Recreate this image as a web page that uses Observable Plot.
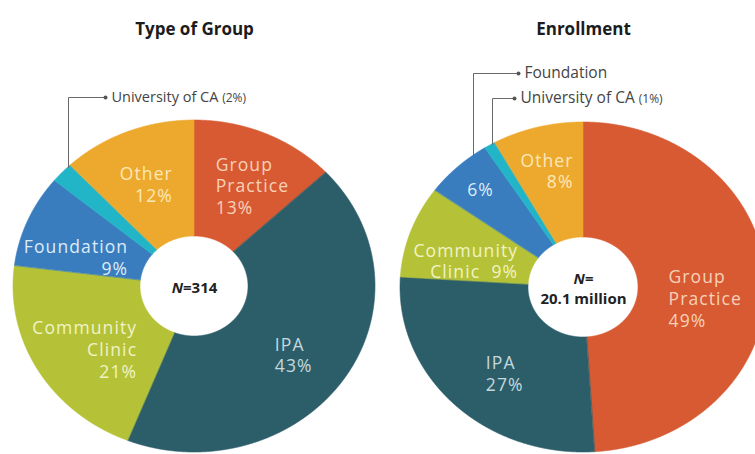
<!DOCTYPE html>
<html><head><meta charset="utf-8">
<script src="https://cdn.jsdelivr.net/npm/d3@7"></script>
<script src="https://cdn.jsdelivr.net/npm/@observablehq/plot@0.6"></script>
<style>html,body{margin:0;padding:0;background:#fff;overflow:hidden} svg{display:block}</style>
</head><body><div id="chart"></div>
<script>
// ---- data ----
const categories = ["Group Practice", "IPA", "Community Clinic", "Foundation", "University of CA", "Other"];
const groupShares = [13, 43, 21, 9, 2, 12];
const enrollmentShares = [49, 27, 9, 6, 1, 8];
const chartTitles = ["Type of Group", "Enrollment"];
const centerNotes = ["N=314", "N=\n20.1 million"];

// ---- styles ----
const sliceColors = ["#D75A33", "#2C5E6A", "#B5C237", "#397DBF", "#22B5C8", "#EDA92E"];
const labelColors = ["#F8D1B8", "#C4D8DD", "#F1F3C6", "#DDEBF8", "#DDF3F6", "#FCE8B6"];

// ---- layout ----
const W = 755, H = 454;
const pies = [
  {shares: groupShares, title: chartTitles[0], note: centerNotes[0],
   cx: 194, cy: 286, rx: 181, ry: 166, hrx: 54, hry: 50, noteSize: 14.5,
   labels: {
     "Group Practice": {anchor: "start", dx: -27, dy: 1, name: "Group\nPractice", sep: "\n"},
     "IPA": {anchor: "start", dx: -20, dy: 5.5, name: "IPA", sep: "\n"},
     "Community Clinic": {anchor: "end", dx: 47, dy: 6, name: "Community\nClinic", sep: "\n"},
     "Foundation": {anchor: "end", dx: 45, dy: 15, name: "Foundation", sep: "\n"},
     "Other": {anchor: "end", dx: 23, dy: 1, name: "Other", sep: "\n"}
   },
   notes: [{cat: "University of CA", dotX: 105, dotY: 97, elbowX: 68, pct: true}]},
  {shares: enrollmentShares, title: chartTitles[1], note: centerNotes[1],
   cx: 583, cy: 287, rx: 183, ry: 165, hrx: 55, hry: 50, noteSize: 15.5,
   labels: {
     "Group Practice": {anchor: "start", dx: -37.5, dy: 14, name: "Group\nPractice", sep: "\n"},
     "IPA": {anchor: "start", dx: -11, dy: 7.5, name: "IPA", sep: "\n"},
     "Community Clinic": {anchor: "end", dx: 50, dy: 10.5, name: "Community\nClinic", sep: "  "},
     "Foundation": {anchor: "middle", dx: -19, dy: -18, name: "", sep: ""},
     "Other": {anchor: "end", dx: 20.5, dy: -10, name: "Other", sep: "\n"}
   },
   notes: [{cat: "Foundation", dotX: 518, dotY: 73, elbowX: 473, pct: false},
           {cat: "University of CA", dotX: 514, dotY: 98, elbowX: 492, pct: true}]}
];
const labelRadius = 0.67;

// ---- derived geometry ----
const ringRows = [];
const labelRows = [];
const leaderRows = [];
const dotRows = [];
const noteRows = [];
pies.forEach((p, pi) => {
  const total = d3.sum(p.shares);
  let acc = 0;
  categories.forEach((cat, ci) => {
    const v = p.shares[ci];
    const a0 = acc / total * 2 * Math.PI;
    acc += v;
    const a1 = acc / total * 2 * Math.PI;
    const n = Math.max(2, Math.ceil((a1 - a0) / 0.004));
    for (let k = 0; k <= n; k++) {
      const a = a0 + (a1 - a0) * k / n;
      ringRows.push({key: pi + "-" + cat, cat,
        x1: p.cx + p.rx * Math.sin(a), y1: p.cy - p.ry * Math.cos(a),
        x2: p.cx + p.hrx * Math.sin(a), y2: p.cy - p.hry * Math.cos(a)});
    }
    const am = (a0 + a1) / 2;
    const L = p.labels[cat];
    if (L) {
      labelRows.push({cat, anchor: L.anchor, dx: L.dx, dy: L.dy,
        x: p.cx + labelRadius * p.rx * Math.sin(am),
        y: p.cy - labelRadius * p.ry * Math.cos(am),
        text: (L.name ? L.name + L.sep : "") + v + "%",
        color: labelColors[ci]});
    }
  });
  p.notes.forEach((nt, ni) => {
    const v = p.shares[categories.indexOf(nt.cat)];
    const t = (nt.elbowX - p.cx) / p.rx;
    const edgeY = p.cy - p.ry * Math.sqrt(1 - t * t);
    const id = pi + "-" + ni;
    leaderRows.push({id, x: nt.dotX, y: nt.dotY}, {id, x: nt.elbowX, y: nt.dotY}, {id, x: nt.elbowX, y: edgeY});
    dotRows.push({x: nt.dotX, y: nt.dotY});
    noteRows.push({x: nt.dotX, y: nt.dotY, size: p.noteSize, text: nt.cat + (nt.pct ? " (" + v + "%)" : "")});
  });
});

const labelMarks = labelRows.map(r => Plot.text([r], {
  x: "x", y: "y", text: "text", textAnchor: r.anchor, dx: r.dx, dy: r.dy,
  fill: r.color, fontSize: 17.5, lineHeight: 1.24, lineAnchor: "middle",
  fontFamily: "Open Sans"
}));
const noteMarks = d3.groups(noteRows, d => d.size).map(([size, rows]) => Plot.text(rows, {
  x: "x", y: "y", text: "text", textAnchor: "start", dx: 6,
  fontSize: size, fill: "#444", fontFamily: "Open Sans"
}));

const chart = Plot.plot({
  width: W, height: H, margin: 0,
  x: {domain: [0, W], range: [0, W], axis: null},
  y: {domain: [0, H], range: [0, H], axis: null},
  color: {domain: categories, range: sliceColors},
  style: {fontFamily: "Open Sans", background: "#fff", overflow: "hidden"},
  marks: [
    Plot.area(ringRows, {x1: "x1", y1: "y1", x2: "x2", y2: "y2", z: "key",
      fill: "cat", stroke: "cat", strokeWidth: 0.6, curve: "linear"}),
    ...labelMarks,
    Plot.text(pies, {x: "cx", y: "cy", text: "note", fontSize: 15, fontWeight: "bold",
      fill: "#222", lineHeight: 1.36, lineAnchor: "middle", fontFamily: "Open Sans"}),
    Plot.line(leaderRows, {x: "x", y: "y", z: "id", stroke: "#6a6a6a", strokeWidth: 1, curve: "linear"}),
    Plot.dot(dotRows, {x: "x", y: "y", r: 2, fill: "#555", stroke: "none"}),
    ...noteMarks,
    Plot.text(pies, {x: "cx", y: () => 29, text: "title", fontSize: 17, fontWeight: "bold",
      fill: "#1c1c1c", fontFamily: "Open Sans"})
  ]
});
document.getElementById("chart").append(chart);

// typographic refinements: italic N, small percentage in annotations, letter spacing for slice labels
const svg = d3.select(chart);
svg.selectAll("g[font-size='17.5']").attr("letter-spacing", "1.1px");
svg.selectAll("text, tspan").each(function() {
  if (this.children.length) return;
  const s = this.textContent;
  if (s.startsWith("N=")) {
    this.textContent = "";
    d3.select(this).append("tspan").attr("font-style", "italic").text("N");
    d3.select(this).append("tspan").text(s.slice(1));
  }
  const m = s.match(/^(.*) (\(\d+%\))$/);
  if (m) {
    this.textContent = "";
    d3.select(this).append("tspan").text(m[1] + " ");
    d3.select(this).append("tspan").attr("font-size", 12).text(m[2]);
  }
});
</script>
</body></html>
